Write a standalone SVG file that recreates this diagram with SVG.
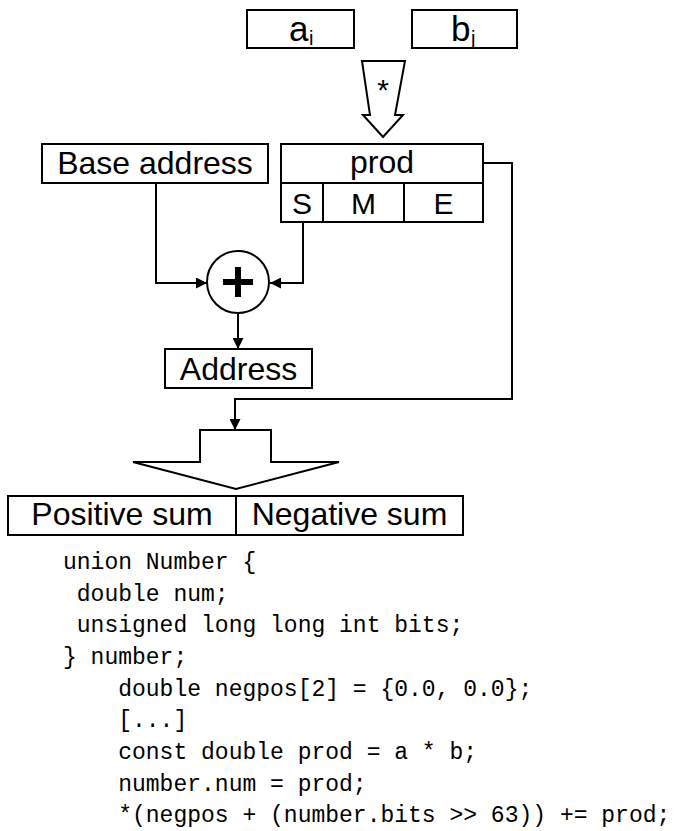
<svg xmlns="http://www.w3.org/2000/svg" width="675" height="831" viewBox="0 0 675 831">
<style>
.box{fill:#fff;stroke:#000;stroke-width:2}
.ln{fill:none;stroke:#000;stroke-width:2}
.t{font-family:"Liberation Sans",Arial,sans-serif;font-size:32px;fill:#000;text-anchor:middle}
.code{font-family:"Liberation Mono","Courier New",monospace;font-size:23px;fill:#000;white-space:pre}
.big{font-family:"Liberation Sans",Arial,sans-serif;font-size:35px;fill:#000}
.sub{font-family:"Liberation Sans",Arial,sans-serif;font-size:20px;fill:#000}
</style>
<defs>
<marker id="ah" viewBox="0 0 10 10" refX="10" refY="5" markerWidth="5.5" markerHeight="5.5" orient="auto" markerUnits="strokeWidth">
<path d="M0,0 L10,5 L0,10 z" fill="#000"/>
</marker>
</defs>
<rect width="675" height="831" fill="#fff"/>

<g id="connectors">
<polyline class="ln" points="156,183 156,283 207,283" marker-end="url(#ah)"/>
<polyline class="ln" points="303,222 303,283 270,283" marker-end="url(#ah)"/>
<line class="ln" x1="238" y1="313" x2="238" y2="349" marker-end="url(#ah)"/>
<polyline class="ln" points="483,163 512,163 512,399 235,399 235,430" marker-end="url(#ah)"/>
</g>

<g id="node-a">
<rect class="box" x="247" y="10" width="107" height="38"/>
<text class="big" x="289" y="41">a</text>
<text class="sub" x="309" y="45">i</text>
</g>

<g id="node-b">
<rect class="box" x="412" y="10" width="105" height="38"/>
<text class="big" x="451" y="41">b</text>
<text class="sub" x="471" y="45">j</text>
</g>

<g id="multiply-arrow">
<polygon class="box" points="362,61 405,61 395,115 403,115 383,137 363,115 370,115"/>
<text x="383" y="100" style="font-family:'Liberation Sans',Arial,sans-serif;font-size:30px;text-anchor:middle">*</text>
</g>

<g id="node-base">
<rect class="box" x="42" y="144" width="226" height="39"/>
<text class="t" x="155" y="174">Base address</text>
</g>

<g id="node-prod">
<rect class="box" x="281" y="144" width="202" height="39"/>
<rect class="box" x="281" y="183" width="202" height="39"/>
<line class="ln" x1="323" y1="183" x2="323" y2="222"/>
<line class="ln" x1="404" y1="183" x2="404" y2="222"/>
<text class="t" x="382" y="173">prod</text>
<text class="t" x="302" y="214" style="font-size:30px">S</text>
<text class="t" x="363.5" y="214" style="font-size:30px">M</text>
<text class="t" x="443.5" y="214" style="font-size:30px">E</text>
</g>

<g id="node-plus">
<circle class="box" cx="238" cy="282" r="31"/>
<rect x="223" y="279" width="30" height="6" fill="#000"/>
<rect x="235" y="267" width="6" height="30" fill="#000"/>
</g>

<g id="node-address">
<rect class="box" x="165" y="349" width="147" height="39"/>
<text class="t" x="238.5" y="380">Address</text>
</g>

<g id="big-arrow">
<polygon class="box" points="200,430 271,430 271,462 339,462 236,489 133,462 200,462"/>
</g>

<g id="node-sums">
<rect class="box" x="8" y="496" width="455" height="39"/>
<line class="ln" x1="236" y1="496" x2="236" y2="535"/>
<text class="t" x="122" y="525">Positive sum</text>
<text class="t" x="349.5" y="525">Negative sum</text>
</g>

<g id="code">
<text class="code" x="63" y="569">union Number {</text>
<text class="code" x="63" y="600.7"> double num;</text>
<text class="code" x="63" y="632.3"> unsigned long long int bits;</text>
<text class="code" x="63" y="664">} number;</text>
<text class="code" x="63" y="695.6">    double negpos[2] = {0.0, 0.0};</text>
<text class="code" x="63" y="727.3">    [...]</text>
<text class="code" x="63" y="758.9">    const double prod = a * b;</text>
<text class="code" x="63" y="790.6">    number.num = prod;</text>
<text class="code" x="63" y="822.2">    *(negpos + (number.bits &gt;&gt; 63)) += prod;</text>
</g>
</svg>
